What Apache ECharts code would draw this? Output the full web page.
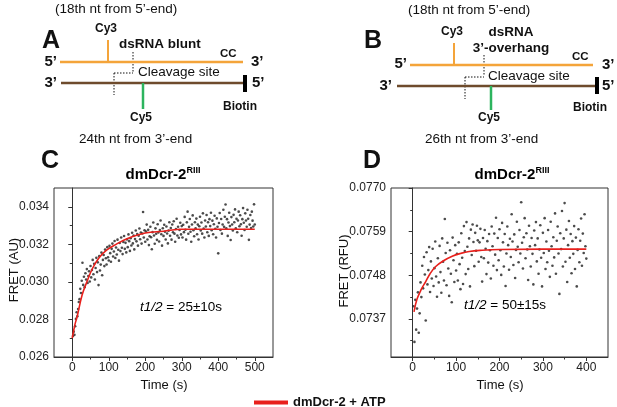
<!DOCTYPE html>
<html>
<head>
<meta charset="utf-8">
<script src="https://cdn.jsdelivr.net/npm/echarts@6/dist/echarts.min.js"></script>
<style>
  html, body { margin: 0; padding: 0; background: #fff; }
  #chart { width: 617px; height: 407px; }
</style>
</head>
<body>
<div id="chart"></div>
<script>
// panel C readings: [time (s), FRET (AU)]
const fretC = [
  [2,0.02712],[4,0.02735],[6,0.02718],[8,0.02764],[10,0.02803],[12,0.02838],[14,0.02817],[16,0.02856],[18,0.02893],[20,0.02908],
  [22,0.02963],[24,0.02941],[26,0.03006],[28,0.03102],[30,0.02984],[32,0.03027],[34,0.02972],[36,0.03046],[38,0.03013],[40,0.03068],
  [42,0.02994],[44,0.03031],[46,0.03057],[48,0.03002],[50,0.03085],[52,0.03024],[54,0.03063],[56,0.03117],[58,0.03041],[60,0.03096],
  [62,0.03013],[64,0.03074],[66,0.03128],[68,0.03052],[70,0.03104],[72,0.02983],[74,0.03137],[76,0.03061],[78,0.03092],[80,0.03156],
  [82,0.03035],[84,0.03117],[86,0.03143],[88,0.03084],[90,0.03172],[92,0.03126],[94,0.03093],[96,0.03185],[98,0.03131],[100,0.03114],
  [102,0.03192],[104,0.03153],[106,0.03107],[108,0.03176],[110,0.03204],[112,0.03135],[114,0.03162],[116,0.03218],[118,0.03127],[120,0.03183],
  [122,0.03146],[124,0.03225],[126,0.03171],[128,0.03113],[130,0.03207],[132,0.03164],[134,0.03236],[136,0.03182],[138,0.03148],[140,0.03213],
  [142,0.03244],[144,0.03176],[146,0.03208],[148,0.03157],[150,0.03226],[152,0.03185],[154,0.03253],[156,0.03217],[158,0.03165],[160,0.03232],
  [162,0.03194],[164,0.03262],[166,0.03205],[168,0.03247],[170,0.03173],[172,0.03228],[174,0.03274],[176,0.03216],[178,0.03255],[180,0.03193],
  [182,0.03246],[184,0.03284],[186,0.03227],[188,0.03263],[190,0.03204],[192,0.03258],[194,0.03372],[196,0.03236],[198,0.03275],[200,0.03214],
  [202,0.03268],[204,0.03305],[206,0.03226],[208,0.03277],[210,0.03196],[212,0.03243],[214,0.03294],[216,0.03238],[218,0.03174],[220,0.03265],
  [222,0.03316],[224,0.03247],[226,0.03203],[228,0.03285],[230,0.03256],[232,0.03224],[234,0.03307],[236,0.03263],[238,0.03215],[240,0.03276],
  [242,0.03327],[244,0.03254],[246,0.03193],[248,0.03286],[250,0.03245],[252,0.03304],[254,0.03267],[256,0.03226],[258,0.03295],[260,0.03258],
  [262,0.03205],[264,0.03273],[266,0.03318],[268,0.03246],[270,0.03287],[272,0.03225],[274,0.03306],[276,0.03264],[278,0.03323],[280,0.03257],
  [282,0.03214],[284,0.03282],[286,0.03336],[288,0.03247],[290,0.03294],[292,0.03235],[294,0.03276],[296,0.03315],[298,0.03253],[300,0.03297],
  [302,0.03236],[304,0.03304],[306,0.03265],[308,0.03346],[310,0.03278],[312,0.03225],[314,0.03317],[316,0.03374],[318,0.03256],[320,0.03293],
  [322,0.03335],[324,0.03267],[326,0.03214],[328,0.03306],[330,0.03354],[332,0.03275],[334,0.03243],[336,0.03318],[338,0.03286],[340,0.03337],
  [342,0.03254],[344,0.03305],[346,0.03226],[348,0.03296],[350,0.03347],[352,0.03274],[354,0.03316],[356,0.03257],[358,0.03365],[360,0.03284],
  [362,0.03236],[364,0.03327],[366,0.03295],[368,0.03356],[370,0.03264],[372,0.03318],[374,0.03245],[376,0.03334],[378,0.03297],[380,0.03368],
  [382,0.03275],[384,0.03326],[386,0.03254],[388,0.03307],[390,0.03352],[392,0.03283],[394,0.03236],[396,0.03338],[398,0.03294],[400,0.03152],
  [402,0.03314],[404,0.03367],[406,0.03276],[408,0.03335],[410,0.03257],[412,0.03306],[414,0.03384],[416,0.03293],[418,0.03347],[420,0.03412],
  [422,0.03286],[424,0.03334],[426,0.03245],[428,0.03316],[430,0.03368],[432,0.03297],[434,0.03223],[436,0.03345],[438,0.03306],[440,0.03274],
  [442,0.03357],[444,0.03318],[446,0.03386],[448,0.03285],[450,0.03336],[452,0.03264],[454,0.03327],[456,0.03374],[458,0.03296],[460,0.03355],
  [462,0.03307],[464,0.03246],[466,0.03334],[468,0.03393],[470,0.03315],[472,0.03276],[474,0.03365],[476,0.03327],[478,0.03294],[480,0.03384],
  [482,0.03336],[484,0.03224],[486,0.03305],[488,0.03356],[490,0.03287],[492,0.03374],[494,0.03326],[496,0.03295],[498,0.03413],[500,0.03306]
];
// fitted curve C
const fitC = [[0,0.0270],[7,0.0277],[14,0.0282],[27,0.0293],[40,0.0300],[55,0.0307],[74,0.0313],[95,0.0317],
  [120,0.0320],[150,0.0323],[200,0.0326],[250,0.0327],[300,0.0328],[400,0.0328],[500,0.0328]];

// panel D readings: [time (s), FRET (RFU)]
const fretD = [
  [2,0.07402],[4,0.07312],[6,0.07418],[8,0.07343],[10,0.07396],[12,0.07437],[14,0.07335],[16,0.07384],[18,0.07462],[20,0.07425],
  [22,0.07504],[24,0.07447],[26,0.07526],[28,0.07482],[30,0.07366],[32,0.07538],[34,0.07457],[36,0.07493],[38,0.07551],[40,0.07438],
  [42,0.07515],[44,0.07472],[46,0.07547],[48,0.07453],[50,0.07498],[52,0.07565],[54,0.07477],[56,0.07426],[58,0.07523],[60,0.07462],
  [62,0.07554],[64,0.07488],[66,0.07436],[68,0.07573],[70,0.07514],[72,0.07467],[74,0.07622],[76,0.07536],[78,0.07455],[80,0.07562],
  [82,0.07497],[84,0.07428],[86,0.07543],[88,0.07484],[90,0.07412],[92,0.07575],[94,0.07518],[96,0.07463],[98,0.07556],[100,0.07492],
  [102,0.07534],[104,0.07467],[106,0.07563],[108,0.07508],[110,0.07445],[112,0.07586],[114,0.07524],[116,0.07458],[118,0.07604],[120,0.07541],
  [122,0.07483],[124,0.07614],[126,0.07552],[128,0.07496],[130,0.07573],[132,0.07452],[134,0.07595],[136,0.07531],[138,0.07608],[140,0.07564],
  [142,0.07503],[144,0.07587],[146,0.07542],[148,0.07605],[150,0.07568],[152,0.07514],[154,0.07563],[156,0.07597],[158,0.07526],[160,0.07464],
  [162,0.07574],[164,0.07523],[166,0.07594],[168,0.07547],[170,0.07483],[172,0.07566],[174,0.07512],[176,0.07584],[178,0.07543],[180,0.07472],
  [182,0.07603],[184,0.07553],[186,0.07504],[188,0.07585],[190,0.07532],[192,0.07625],[194,0.07493],[196,0.07574],[198,0.07518],[200,0.07596],
  [202,0.07543],[204,0.07481],[206,0.07612],[208,0.07563],[210,0.07502],[212,0.07584],[214,0.07453],[216,0.07535],[218,0.07603],[220,0.07556],
  [222,0.07494],[224,0.07572],[226,0.07526],[228,0.07634],[230,0.07565],[232,0.07506],[234,0.07583],[236,0.07473],[238,0.07544],[240,0.07615],
  [242,0.07552],[244,0.07513],[246,0.07594],[248,0.07535],[250,0.07664],[252,0.07562],[254,0.07497],[256,0.07576],[258,0.07624],[260,0.07523],
  [262,0.07586],[264,0.07545],[266,0.07468],[268,0.07605],[270,0.07553],[272,0.07502],[274,0.07574],[276,0.07534],[278,0.07457],[280,0.07593],
  [282,0.07556],[284,0.07614],[286,0.07515],[288,0.07573],[290,0.07484],[292,0.07545],[294,0.07606],[296,0.07524],[298,0.07452],[300,0.07587],
  [302,0.07536],[304,0.07624],[306,0.07496],[308,0.07565],[310,0.07513],[312,0.07594],[314,0.07542],[316,0.07476],[318,0.07615],[320,0.07553],
  [322,0.07504],[324,0.07576],[326,0.07525],[328,0.07636],[330,0.07484],[332,0.07567],[334,0.07603],[336,0.07535],[338,0.07433],[340,0.07586],
  [342,0.07546],[344,0.07642],[346,0.07502],[348,0.07573],[350,0.07662],[352,0.07514],[354,0.07595],[356,0.07463],[358,0.07556],[360,0.07617],
  [362,0.07524],[364,0.07584],[366,0.07485],[368,0.07566],[370,0.07534],[372,0.07604],[374,0.07496],[376,0.07575],[378,0.07452],[380,0.07544],
  [382,0.07596],[384,0.07513],[386,0.07567],[388,0.07623],[390,0.07504],[392,0.07585],[394,0.07536],[396,0.07634],[398,0.07553],[400,0.07522]
];
const fitD = [[3,0.07388],[10,0.07420],[20,0.07445],[30,0.07464],[40,0.07484],[53,0.07502],[70,0.07516],[91,0.07528],
  [110,0.07535],[130,0.07540],[160,0.07543],[200,0.07545],[300,0.07546],[400,0.07546]];

// tick labels
const timeTicksC = [0, 100, 200, 300, 400, 500];
const timeMinorC = [50, 150, 250, 350, 450];
const fretTicksC = [0.026, 0.028, 0.030, 0.032, 0.034];
const fretMinorC = [0.027, 0.029, 0.031, 0.033];
const timeTicksD = [0, 100, 200, 300, 400];
const timeMinorD = [50, 150, 250, 350];
const fretTicksD = [0.0737, 0.0748, 0.0759, 0.0770];
const fretMinorD = [0.07315, 0.07425, 0.07535, 0.07645];

const FONT = "'Liberation Sans', Arial, sans-serif";
const ORANGE = '#f4a43a';
const BROWN = '#6e4b2c';
const GREEN = '#2db45e';
const RED = '#e8201c';
const AXIS = '#333';

const chart = echarts.init(document.getElementById('chart'));

const txt = (x, y, text, font, align, extra) => Object.assign({
  type: 'text', x: x, y: y,
  style: { text: text, font: font + ' ' + FONT, fill: '#111', textAlign: align || 'left', textVerticalAlign: 'middle' }
}, extra || {});
const seg = (x1, y1, x2, y2, color, w, dash) => ({
  type: 'line', shape: { x1: x1, y1: y1, x2: x2, y2: y2 },
  style: { stroke: color, lineWidth: w, lineDash: dash || null }
});
const DOT = [1.5, 1.5];

// schematic of the two substrates (panels A and B)
const diagram = [
  // A
  txt(55, 9, '(18th nt from 5’-end)', '13.5px'),
  txt(42, 41, 'A', 'bold 25px'),
  txt(106, 29, 'Cy3', 'bold 12px', 'center'),
  seg(108, 40, 108, 62, ORANGE, 2),
  txt(119, 44, 'dsRNA blunt', 'bold 13.5px'),
  seg(133, 52, 133, 73, '#111', 1, DOT),
  txt(220, 54, 'CC', 'bold 11.5px'),
  txt(57, 62, '5’', 'bold 15px', 'right'),
  seg(60, 62, 243, 62, ORANGE, 2.5),
  txt(251, 62, '3’', 'bold 15px'),
  txt(138, 72, 'Cleavage site', '13.5px'),
  seg(114, 73, 133, 73, '#111', 1, DOT),
  seg(114, 73, 114, 95, '#111', 1, DOT),
  txt(57, 83, '3’', 'bold 15px', 'right'),
  seg(61, 83, 244, 83, BROWN, 2.5),
  seg(245, 75, 245, 92, '#000', 4),
  txt(252, 83, '5’', 'bold 15px'),
  seg(143, 83, 143, 109, GREEN, 2.5),
  txt(141, 118, 'Cy5', 'bold 12px', 'center'),
  txt(240, 107, 'Biotin', 'bold 12px', 'center'),
  txt(79, 139, '24th nt from 3’-end', '13.5px'),
  // B
  txt(408, 10, '(18th nt from 5’-end)', '13.5px'),
  txt(364, 41, 'B', 'bold 25px'),
  txt(452, 32, 'Cy3', 'bold 12px', 'center'),
  seg(454, 43, 454, 65, ORANGE, 2),
  txt(511, 32, 'dsRNA', 'bold 13.5px', 'center'),
  txt(511, 48, '3’-overhang', 'bold 13.5px', 'center'),
  seg(484, 55, 484, 76, '#111', 1, DOT),
  txt(572, 57, 'CC', 'bold 11.5px'),
  txt(407, 64, '5’', 'bold 15px', 'right'),
  seg(410, 65, 593, 65, ORANGE, 2.5),
  txt(602, 65, '3’', 'bold 15px'),
  txt(488, 76, 'Cleavage site', '13.5px'),
  seg(465, 77, 484, 77, '#111', 1, DOT),
  seg(465, 77, 465, 99, '#111', 1, DOT),
  txt(392, 86, '3’', 'bold 15px', 'right'),
  seg(397, 86, 595, 86, BROWN, 2.5),
  seg(597, 77, 597, 94, '#000', 4),
  txt(602, 86, '5’', 'bold 15px'),
  seg(491, 86, 491, 110, GREEN, 2.5),
  txt(489, 118, 'Cy5', 'bold 12px', 'center'),
  txt(590, 108, 'Biotin', 'bold 12px', 'center'),
  txt(425, 139, '26th nt from 3’-end', '13.5px')
];

const rich = {
  a: { fontSize: 15, fontWeight: 'bold', fontFamily: FONT, color: '#111', lineHeight: 18 },
  s: { fontSize: 9, fontWeight: 'bold', fontFamily: FONT, color: '#111', verticalAlign: 'top', lineHeight: 18 },
  i: { fontSize: 13.5, fontStyle: 'italic', fontFamily: FONT, color: '#111' },
  n: { fontSize: 13.5, fontFamily: FONT, color: '#111' }
};
const richTxt = (x, y, text, align, extra) => Object.assign({
  type: 'text', x: x, y: y,
  style: { text: text, rich: rich, textAlign: align, textVerticalAlign: 'middle' }
}, extra || {});

const panels = [
  txt(41, 161, 'C', 'bold 25px'),
  txt(363, 161, 'D', 'bold 25px'),
  richTxt(163, 175, '{a|dmDcr-2}{s|RIII}', 'center'),
  richTxt(512, 175, '{a|dmDcr-2}{s|RIII}', 'center'),
  richTxt(140, 307, '{i|t1/2}{n| = 25±10s}', 'left'),
  richTxt(464, 305, '{i|t1/2}{n| = 50±15s}', 'left'),
  txt(14, 270, 'FRET (AU)', '13px', 'center', { rotation: Math.PI / 2 }),
  txt(344, 271, 'FRET (RFU)', '13px', 'center', { rotation: Math.PI / 2 }),
  txt(164, 385, 'Time (s)', '13px', 'center'),
  txt(500, 385, 'Time (s)', '13px', 'center')
];

const labelStyle = { color: '#222', fontSize: 12, fontFamily: FONT };
const mainAxis = (grid, min, max, ticks, digits, pos) => ({
  type: 'value', gridIndex: grid, min: min, max: max, position: pos,
  axisLine: { show: true, lineStyle: { color: AXIS, width: 1 } },
  axisTick: { show: true, inside: false, length: 4, customValues: ticks, lineStyle: { color: AXIS } },
  axisLabel: Object.assign({ margin: 5, customValues: ticks,
    formatter: (v) => digits === 0 ? String(Math.round(v)) : v.toFixed(digits) }, labelStyle),
  splitLine: { show: false }
});
const minorAxis = (grid, min, max, ticks, pos) => ({
  type: 'value', gridIndex: grid, min: min, max: max, position: pos, offset: 0,
  axisLine: { show: false },
  axisTick: { show: true, inside: false, length: 2.5, customValues: ticks, lineStyle: { color: AXIS } },
  axisLabel: { show: false },
  splitLine: { show: false }
});

const option = {
  animation: false,
  backgroundColor: '#fff',
  grid: [
    { left: 54, top: 188, width: 219, height: 169, show: true, borderColor: AXIS, borderWidth: 1, backgroundColor: '#fff' },
    { left: 391, top: 188, width: 217, height: 169, show: true, borderColor: AXIS, borderWidth: 1, backgroundColor: '#fff' }
  ],
  xAxis: [
    mainAxis(0, -50, 550, timeTicksC, 0, 'bottom'),
    minorAxis(0, -50, 550, timeMinorC, 'bottom'),
    mainAxis(1, -50, 450, timeTicksD, 0, 'bottom'),
    minorAxis(1, -50, 450, timeMinorD, 'bottom')
  ],
  yAxis: [
    mainAxis(0, 0.026, 0.035, fretTicksC, 3, 'left'),
    minorAxis(0, 0.026, 0.035, fretMinorC, 'left'),
    mainAxis(1, 0.07274, 0.0770, fretTicksD, 4, 'left'),
    minorAxis(1, 0.07274, 0.0770, fretMinorD, 'left')
  ],
  legend: {
    left: 249, top: 391, itemWidth: 34, itemHeight: 4,
    data: [{ name: 'dmDcr-2 + ATP', icon: 'rect', itemStyle: { color: RED } }],
    textStyle: { color: '#111', fontSize: 13, fontWeight: 'bold', fontFamily: FONT }
  },
  series: [
    { name: 'C data', type: 'scatter', xAxisIndex: 0, yAxisIndex: 0, data: fretC,
      symbolSize: 2.6, itemStyle: { color: '#1e1e1e' } },
    { name: 'dmDcr-2 + ATP', type: 'line', xAxisIndex: 0, yAxisIndex: 0, data: fitC, smooth: 0.4,
      showSymbol: false, lineStyle: { color: RED, width: 1.6 }, itemStyle: { color: RED }, z: 5 },
    { name: 'D data', type: 'scatter', xAxisIndex: 2, yAxisIndex: 2, data: fretD,
      symbolSize: 2.6, itemStyle: { color: '#1e1e1e' } },
    { name: 'dmDcr-2 + ATP', type: 'line', xAxisIndex: 2, yAxisIndex: 2, data: fitD, smooth: 0.4,
      showSymbol: false, lineStyle: { color: RED, width: 1.6 }, itemStyle: { color: RED }, z: 5 }
  ],
  graphic: { elements: diagram.concat(panels) }
};

chart.setOption(option);
</script>
</body>
</html>
